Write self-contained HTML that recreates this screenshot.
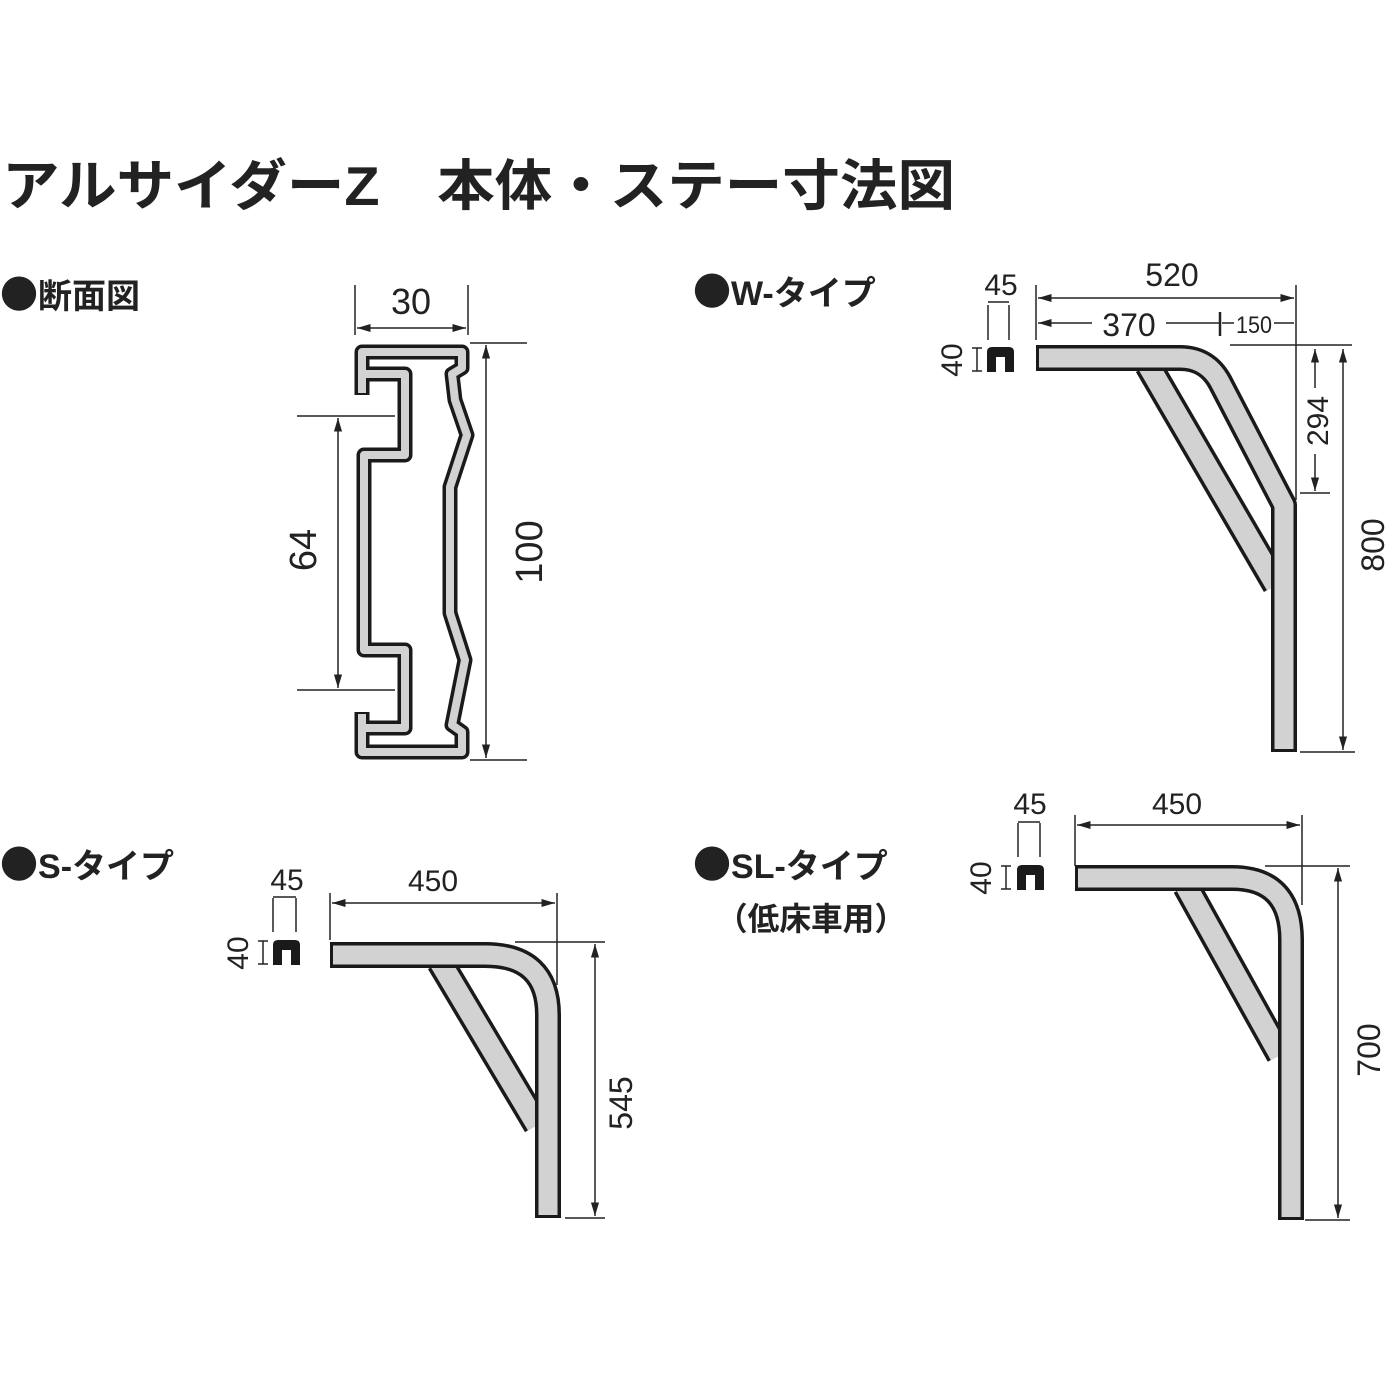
<!DOCTYPE html>
<html><head><meta charset="utf-8"><style>
html,body{margin:0;padding:0;background:#fff;}
svg{display:block}
text{font-family:"Liberation Sans","Noto Sans CJK JP",sans-serif;fill:#222}
.b{font-family:"Noto Sans CJK JP",sans-serif;font-size:38px}
</style></head><body>
<svg width="1400" height="1400" viewBox="0 0 1400 1400" xmlns="http://www.w3.org/2000/svg">
<defs>
<marker id="a" viewBox="0 0 10 10" refX="10" refY="5" markerWidth="9" markerHeight="9" orient="auto-start-reverse"><path d="M0 2 L10 5 L0 8 Z" fill="#222"/></marker>
</defs>
<text x="2" y="205" font-size="55" font-weight="bold" textLength="953" lengthAdjust="spacingAndGlyphs">アルサイダーZ　本体・ステー寸法図</text>
<g font-size="34" font-weight="bold">
<text x="0" y="308"><tspan class="b">●</tspan>断面図</text>
<text x="693" y="305"><tspan class="b">●</tspan>W-タイプ</text>
<text x="0" y="878"><tspan class="b">●</tspan>S-タイプ</text>
<text x="693" y="878"><tspan class="b">●</tspan>SL-タイプ</text>
<text x="716" y="930" font-size="32" textLength="190" lengthAdjust="spacingAndGlyphs">（低床車用）</text>
</g>

<g stroke="#222" fill="none" stroke-width="1.5">
<line x1="355" y1="285" x2="355" y2="335"/><line x1="468" y1="285" x2="468" y2="335"/>
<line x1="357" y1="328" x2="466" y2="328" marker-start="url(#a)" marker-end="url(#a)"/>
<line x1="470" y1="343" x2="527" y2="343"/><line x1="470" y1="760" x2="527" y2="760"/>
<line x1="486" y1="345" x2="486" y2="758" marker-start="url(#a)" marker-end="url(#a)"/>
<line x1="297" y1="416" x2="395" y2="416"/><line x1="297" y1="690" x2="395" y2="690"/>
<line x1="338" y1="418" x2="338" y2="688" marker-start="url(#a)" marker-end="url(#a)"/>
</g>
<text x="411" y="314" font-size="36" text-anchor="middle">30</text>
<text transform="translate(542,552) rotate(-90)" font-size="38" text-anchor="middle">100</text>
<text transform="translate(316,550) rotate(-90)" font-size="38" text-anchor="middle">64</text>
<g fill="none" stroke-linejoin="round">
<g stroke="#1a1a1a" stroke-width="15">
<path d="M362 395 L362 352 L462 352 L462 368 L452 374 L455 400 L467 435 L450 487 L450 613 L465 660 L452 725 L462 732 L462 752 L362 752 L362 712"/>
<path d="M362 374 L405 374 L405 455 L364 455 L364 650 L405 650 L405 728 L362 728"/>
</g>
<g stroke="#d2d2d2" stroke-width="8">
<path d="M362 393 L362 352 L462 352 L462 368 L452 374 L455 400 L467 435 L450 487 L450 613 L465 660 L452 725 L462 732 L462 752 L362 752 L362 714"/>
<path d="M362 374 L405 374 L405 455 L364 455 L364 650 L405 650 L405 728 L362 728"/>
</g>
</g>

<!-- W type -->
<g fill="none">
<path d="M1148 365 L1276 585" stroke="#1a1a1a" stroke-width="28"/>
<path d="M1148 365 L1276 585" stroke="#d2d2d2" stroke-width="21"/>
<path d="M1036 358 L1180 358 Q1207 358 1220 382 L1284 505 L1284 752" stroke="#1a1a1a" stroke-width="26" stroke-linejoin="round"/>
<path d="M1039 358 L1180 358 Q1207 358 1220 382 L1284 505 L1284 749" stroke="#d2d2d2" stroke-width="19" stroke-linejoin="round"/>
</g>
<path d="M987 372 L987 352 Q987 347 992 347 L1009 347 Q1014 347 1014 352 L1014 372 L1005 372 L1005 357 L996 357 L996 372 Z" fill="#1a1a1a"/>
<g stroke="#222" fill="none" stroke-width="1.5">
<line x1="988" y1="305" x2="988" y2="340"/><line x1="1009" y1="305" x2="1009" y2="340"/><line x1="988" y1="302" x2="1009" y2="302"/>
<line x1="977" y1="348" x2="977" y2="371"/><line x1="972" y1="348" x2="982" y2="348"/><line x1="972" y1="371" x2="982" y2="371"/>
<line x1="1036" y1="285" x2="1036" y2="340"/><line x1="1296" y1="285" x2="1296" y2="500"/>
<line x1="1038" y1="298" x2="1294" y2="298" marker-start="url(#a)" marker-end="url(#a)"/>
<line x1="1038" y1="323" x2="1220" y2="323" marker-start="url(#a)"/>
<line x1="1220" y1="312" x2="1220" y2="336" stroke-width="2.5"/>
<line x1="1222" y1="323" x2="1294" y2="323"/>
<line x1="1230" y1="345" x2="1352" y2="345"/><line x1="1300" y1="493" x2="1330" y2="493"/><line x1="1300" y1="752" x2="1355" y2="752"/>
<line x1="1315" y1="349" x2="1315" y2="491" marker-start="url(#a)" marker-end="url(#a)"/>
<line x1="1343" y1="349" x2="1343" y2="750" marker-start="url(#a)" marker-end="url(#a)"/>
</g>
<text x="1001" y="295" font-size="30" text-anchor="middle">45</text>
<text transform="translate(962,360) rotate(-90)" font-size="30" text-anchor="middle">40</text>
<text x="1172" y="286" font-size="32" text-anchor="middle">520</text>
<rect x="1092" y="308" width="74" height="30" fill="#fff"/>
<text x="1129" y="336" font-size="32" text-anchor="middle">370</text>
<rect x="1234" y="310" width="40" height="26" fill="#fff"/>
<text x="1254" y="333" font-size="24" text-anchor="middle" textLength="36" lengthAdjust="spacingAndGlyphs">150</text>
<rect x="1304" y="388" width="24" height="66" fill="#fff"/>
<text transform="translate(1328,421) rotate(-90)" font-size="30" text-anchor="middle">294</text>
<text transform="translate(1384,545) rotate(-90)" font-size="32" text-anchor="middle">800</text>

<!-- S type -->
<g fill="none">
<path d="M440 962 L537 1125" stroke="#1a1a1a" stroke-width="28"/>
<path d="M440 962 L537 1125" stroke="#d2d2d2" stroke-width="21"/>
<path d="M330 955 L485 955 Q548 955 548 1015 L548 1218" stroke="#1a1a1a" stroke-width="26"/>
<path d="M333 955 L485 955 Q548 955 548 1015 L548 1215" stroke="#d2d2d2" stroke-width="19"/>
</g>
<path d="M273 965 L273 945 Q273 940 278 940 L295 940 Q300 940 300 945 L300 965 L291 965 L291 950 L282 950 L282 965 Z" fill="#1a1a1a"/>
<g stroke="#222" fill="none" stroke-width="1.5">
<line x1="273" y1="898" x2="273" y2="932"/><line x1="296" y1="898" x2="296" y2="932"/><line x1="273" y1="897" x2="296" y2="897"/>
<line x1="263" y1="941" x2="263" y2="964"/><line x1="258" y1="941" x2="268" y2="941"/><line x1="258" y1="964" x2="268" y2="964"/>
<line x1="330" y1="893" x2="330" y2="940"/><line x1="557" y1="893" x2="557" y2="985"/>
<line x1="332" y1="903" x2="555" y2="903" marker-start="url(#a)" marker-end="url(#a)"/>
<line x1="515" y1="942" x2="605" y2="942"/><line x1="565" y1="1218" x2="605" y2="1218"/>
<line x1="595" y1="944" x2="595" y2="1216" marker-start="url(#a)" marker-end="url(#a)"/>
</g>
<text x="287" y="890" font-size="30" text-anchor="middle">45</text>
<text transform="translate(248,953) rotate(-90)" font-size="30" text-anchor="middle">40</text>
<text x="433" y="891" font-size="30" text-anchor="middle">450</text>
<text transform="translate(632,1103) rotate(-90)" font-size="32" text-anchor="middle">545</text>

<!-- SL type -->
<g fill="none">
<path d="M1186 886 L1280 1055" stroke="#1a1a1a" stroke-width="28"/>
<path d="M1186 886 L1280 1055" stroke="#d2d2d2" stroke-width="21"/>
<path d="M1075 878 L1232 878 Q1291 878 1291 940 L1291 1220" stroke="#1a1a1a" stroke-width="26"/>
<path d="M1078 878 L1232 878 Q1291 878 1291 940 L1291 1217" stroke="#d2d2d2" stroke-width="19"/>
</g>
<path d="M1017 890 L1017 870 Q1017 865 1022 865 L1039 865 Q1044 865 1044 870 L1044 890 L1035 890 L1035 875 L1026 875 L1026 890 Z" fill="#1a1a1a"/>
<g stroke="#222" fill="none" stroke-width="1.5">
<line x1="1018" y1="823" x2="1018" y2="857"/><line x1="1040" y1="823" x2="1040" y2="857"/><line x1="1018" y1="822" x2="1040" y2="822"/>
<line x1="1006" y1="866" x2="1006" y2="889"/><line x1="1001" y1="866" x2="1011" y2="866"/><line x1="1001" y1="889" x2="1011" y2="889"/>
<line x1="1075" y1="815" x2="1075" y2="866"/><line x1="1302" y1="815" x2="1302" y2="905"/>
<line x1="1077" y1="825" x2="1300" y2="825" marker-start="url(#a)" marker-end="url(#a)"/>
<line x1="1265" y1="866" x2="1350" y2="866"/><line x1="1305" y1="1220" x2="1350" y2="1220"/>
<line x1="1338" y1="868" x2="1338" y2="1218" marker-start="url(#a)" marker-end="url(#a)"/>
</g>
<text x="1030" y="814" font-size="30" text-anchor="middle">45</text>
<text transform="translate(991,878) rotate(-90)" font-size="30" text-anchor="middle">40</text>
<text x="1177" y="814" font-size="30" text-anchor="middle">450</text>
<text transform="translate(1380,1050) rotate(-90)" font-size="32" text-anchor="middle">700</text>
</svg>
</body></html>
